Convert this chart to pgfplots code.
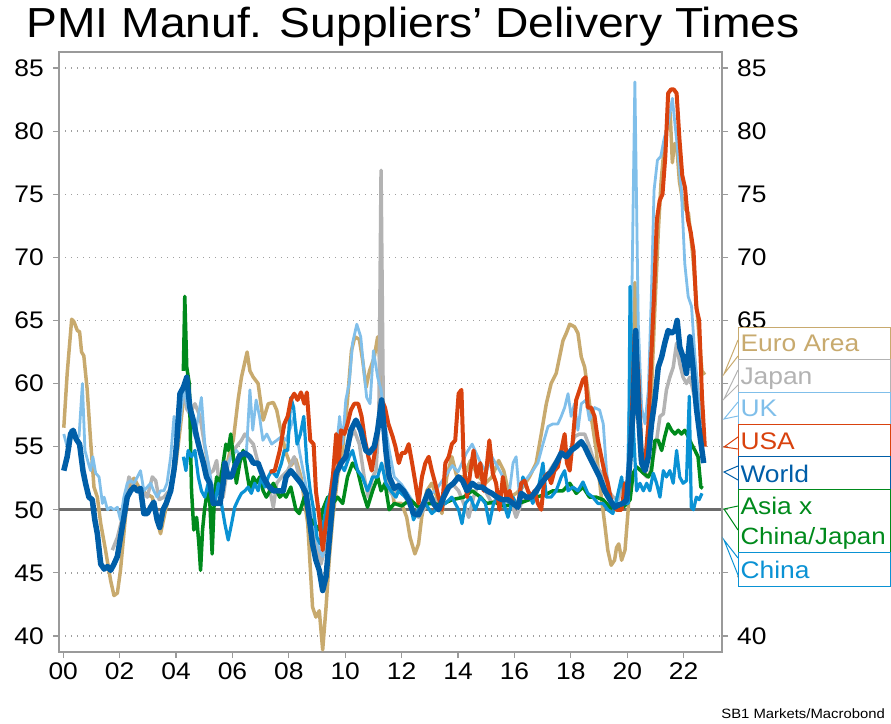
\documentclass[border=0pt]{standalone}
\usepackage{fontspec}
\setmainfont[FakeStretch=1.1]{Liberation Sans}
\usepackage{pgfplots}
\pgfplotsset{compat=1.18}
\definecolor{cEuro}{HTML}{C8AA6E}
\definecolor{cJapan}{HTML}{B3B3B3}
\definecolor{cUK}{HTML}{80BFEA}
\definecolor{cUSA}{HTML}{D9420E}
\definecolor{cWorld}{HTML}{005EA8}
\definecolor{cAsia}{HTML}{008A1C}
\definecolor{cChina}{HTML}{0A92D4}
\definecolor{cFrame}{HTML}{9A9A9A}
\begin{document}
\begin{tikzpicture}
\useasboundingbox (0pt,0pt) rectangle (891pt,723pt);
\begin{axis}[
  at={(59pt,71pt)}, anchor=south west,
  width=663pt, height=600pt, scale only axis,
  xmin=-0.15, xmax=23.36, ymin=38.73, ymax=86.27,
  xtick={0,2,...,22},
  xticklabels={00,02,04,06,08,10,12,14,16,18,20,22},
  ytick={40,45,...,85},
  xtick pos=left, ytick pos=left,
  tick align=outside, major tick length=6pt,
  tick style={cFrame, line width=1.2pt},
  axis line style={cFrame, line width=1.5pt},
  ymajorgrids,
  major grid style={gray!75, line width=1.4pt, dash pattern=on 1.4pt off 4.6pt},
  /pgf/number format/assume math mode=true,
  tick label style={font=\fontsize{24}{24}\selectfont, text=black},
  yticklabel style={inner sep=0pt, xshift=-9pt},
  xticklabel style={inner sep=0pt, yshift=-5pt},
  every axis plot/.append style={line join=round, mark=none},
]
\draw[gray!85!black, line width=2.6pt] (axis cs:-0.15,50) -- (axis cs:23.36,50);
% Euro Area
\addplot[cEuro, line width=3.5pt] coordinates {
(0.02,56.5)(0.14,60.8)(0.3,65.1)(0.38,64.9)(0.5,64.2)(0.58,64.1)(0.65,62.5)(0.73,62.2)(0.85,59.5)(0.97,55.5)(1.09,51.8)(1.21,51.0)(1.33,48.9)(1.5,46.8)(1.68,44.4)(1.8,43.2)(1.92,43.4)(2.03,45.2)(2.15,48.1)(2.27,51.0)(2.39,52.1)(2.51,52.5)(2.68,51.8)(2.92,51.3)(3.16,51.0)(3.33,49.2)(3.45,48.1)(3.63,50.0)(3.86,52.1)(4.0,53.7)(4.15,56.5)(4.3,59.5)(4.45,58.5)(4.6,57)(4.75,55.5)(4.9,54.5)(5.05,53.5)(5.2,52)(5.35,50.8)(5.5,50.5)(5.65,51.5)(5.8,53.5)(5.95,55)(6.03,55.5)(6.2,58.7)(6.32,60.5)(6.52,62.5)(6.62,61.0)(6.74,60.5)(6.91,60.0)(7.09,57.1)(7.27,58.4)(7.45,58.5)(7.57,57.9)(7.74,56.0)(7.9,54.5)(8.07,53.5)(8.25,54)(8.43,52.6)(8.67,48.9)(8.84,42.3)(8.96,41.5)(9.08,42)(9.2,38.9)(9.32,42.3)(9.44,46.3)(9.56,49.4)(9.73,52.6)(9.9,54.7)(10.08,58.7)(10.22,62.6)(10.34,63.7)(10.5,63.5)(10.62,61.8)(10.74,59.7)(10.86,61)(11.03,62.1)(11.15,63.7)(11.27,60.8)(11.39,55.5)(11.57,52.6)(11.74,50.5)(12.0,50.5)(12.18,49.4)(12.3,47.8)(12.47,46.5)(12.6,47.3)(12.71,49.4)(12.89,51.5)(13.07,52.1)(13.25,51)(13.43,49.7)(13.6,52.6)(13.78,54.2)(13.96,52.6)(14.2,52.6)(14.44,53.9)(14.73,52.6)(14.97,52.1)(15.2,52.6)(15.44,53.9)(15.62,53.1)(15.83,51)(16.06,51.3)(16.3,51.8)(16.53,52.6)(16.77,53.7)(16.95,56)(17.13,58.4)(17.3,60)(17.48,60.8)(17.6,62.1)(17.72,63.4)(17.84,64)(17.96,64.7)(18.13,64.5)(18.25,64)(18.37,62.1)(18.49,61.3)(18.6,59.5)(18.72,57.4)(18.9,54.7)(19.08,51)(19.2,48.9)(19.31,46.8)(19.43,45.6)(19.55,46)(19.62,47)(19.7,47.3)(19.8,46)(19.92,46.8)(20.04,50.2)(20.15,58.1)(20.27,68)(20.39,59.5)(20.51,54.2)(20.63,52.9)(20.75,54.2)(20.86,59.5)(20.98,66)(21.1,72)(21.2,76)(21.3,78.5)(21.42,80.5)(21.52,81.5)(21.6,77.5)(21.67,79)(21.75,79)(21.85,76)(22.0,74)(22.17,73.5)(22.33,70)(22.5,65)(22.65,61)(22.75,60.7)};
% Japan
\addplot[cJapan, line width=3.5pt] coordinates {
(1.74,46.8)(1.92,47.8)(2.1,49.4)(2.21,51)(2.33,52.6)(2.45,52.1)(2.63,51.5)(2.8,51.5)(2.98,51)(3.16,52.6)(3.28,52.3)(3.4,50.8)(3.57,51)(3.75,51.5)(3.9,52.5)(4.02,55)(4.15,57.5)(4.26,59.5)(4.38,58)(4.49,57.6)(4.67,58.4)(4.85,57.4)(5.02,55)(5.2,52.9)(5.32,53.1)(5.44,53.9)(5.56,51.5)(5.67,51.0)(5.85,53.7)(5.97,54.5)(6.14,55.0)(6.32,55.5)(6.44,56.0)(6.62,55.5)(6.74,55.2)(6.91,53.7)(7.09,52.9)(7.2,52.1)(7.33,51.5)(7.45,50.2)(7.57,52.1)(7.74,52.6)(7.96,53.1)(8.19,54.2)(8.37,52.6)(8.61,51.0)(8.78,48.9)(8.96,47.3)(9.14,45.7)(9.26,46.8)(9.44,48.9)(9.62,51.5)(9.8,53.7)(9.97,54.2)(10.14,55.5)(10.32,56.3)(10.5,55.2)(10.67,52.6)(10.82,51.0)(10.97,52.6)(11.09,53.1)(11.19,56.8)(11.27,76.9)(11.35,58)(11.45,53.1)(11.56,51.5)(11.74,51.0)(11.89,52.1)(12.13,51.0)(12.37,50.0)(12.6,49.4)(12.84,50.2)(13.07,51.0)(13.31,50.5)(13.55,51.5)(13.78,52.1)(14.02,51.5)(14.2,50.5)(14.38,49.4)(14.55,51.0)(14.73,52.1)(14.97,51.5)(15.2,50.5)(15.44,51.0)(15.62,50.5)(15.83,51)(16.06,49.4)(16.24,50.5)(16.53,51.0)(16.77,51.5)(17.01,52.1)(17.25,53.1)(17.48,53.9)(17.72,54.7)(17.96,54.5)(18.13,55.8)(18.31,56.0)(18.49,56.0)(18.66,55.0)(18.84,53.7)(19.02,53.1)(19.2,52.6)(19.33,51.5)(19.5,51.0)(19.68,50.8)(19.86,52.1)(20.04,51.0)(20.21,56.8)(20.33,59.5)(20.45,54.2)(20.57,52.9)(20.69,52.6)(20.8,52.9)(20.92,54.2)(21.04,55.5)(21.16,57.4)(21.28,57.6)(21.39,59.5)(21.51,60.5)(21.63,61.3)(21.75,63.2)(21.86,61.6)(21.98,60.5)(22.1,60.0)(22.22,60.5)(22.33,59.5)(22.45,58.1)(22.57,57.4)(22.75,57.5)};
% UK
\addplot[cUK, line width=2.8pt] coordinates {
(0.02,56.0)(0.14,55.0)(0.26,56.3)(0.44,55.8)(0.56,55.8)(0.68,60.0)(0.77,54.7)(0.89,53.7)(0.97,53.1)(1.05,54.2)(1.15,52.9)(1.27,52.6)(1.39,50.5)(1.45,51.0)(1.57,50.0)(1.68,50.2)(1.8,50.0)(1.92,50.2)(2.03,49.2)(2.15,51.0)(2.27,52.1)(2.39,52.3)(2.51,52.1)(2.63,52.6)(2.74,53.1)(2.86,51.5)(2.98,51.8)(3.1,52.1)(3.21,51.5)(3.33,51.0)(3.45,51.5)(3.57,51.5)(3.68,52.1)(3.81,54.2)(3.93,57.4)(4.02,55)(4.15,57)(4.26,59.7)(4.49,57.4)(4.67,55.8)(4.79,57.4)(4.9,58.9)(5.02,55.2)(5.14,53.7)(5.26,52.1)(5.38,51.5)(5.5,52.1)(5.61,51.0)(5.79,53.4)(5.97,54.2)(6.14,54.7)(6.32,54.2)(6.5,54.7)(6.62,59.5)(6.72,56.3)(6.84,58.7)(6.96,57.4)(7.08,55.5)(7.22,56.0)(7.39,55.2)(7.57,55.5)(7.74,55.8)(7.9,55.5)(8.07,56.6)(8.19,57.4)(8.37,54.7)(8.55,52.6)(8.72,50.5)(8.9,48.6)(9.08,46.8)(9.2,46.3)(9.32,48.9)(9.5,52.1)(9.68,54.7)(9.8,57.4)(9.9,55.2)(10.02,58.7)(10.14,60.0)(10.26,63.2)(10.41,64.7)(10.55,63.7)(10.67,60.8)(10.76,58.9)(10.88,58.4)(11.0,62.6)(11.15,60.5)(11.27,59.5)(11.41,56.8)(11.56,54.7)(11.74,52.6)(12.0,52)(12.3,51)(12.6,50)(12.9,51)(13.2,51.5)(13.5,52.5)(13.8,53.5)(14.0,53)(14.3,54.5)(14.5,55.2)(14.8,53.7)(15.0,53)(15.2,54.2)(15.5,53)(15.59,52.6)(15.77,50.5)(15.95,53.7)(16.06,54.2)(16.18,51.0)(16.3,52.1)(16.48,52.6)(16.65,53.1)(16.83,53.7)(17.01,55.2)(17.19,56.6)(17.36,56.8)(17.54,56.8)(17.66,57.4)(17.78,58.1)(17.9,59.2)(18.01,57.4)(18.13,58.4)(18.25,56.3)(18.37,58.4)(18.54,58.7)(18.66,57.1)(18.84,58.1)(19.02,57.9)(19.15,56.8)(19.27,52.9)(19.45,50.5)(19.62,50.5)(19.8,52.3)(19.98,51.0)(20.15,64.8)(20.27,83.9)(20.39,64.8)(20.51,58.1)(20.63,56.8)(20.75,59.5)(20.86,67.4)(20.95,75.3)(21.07,77.7)(21.19,78)(21.3,79.3)(21.45,80.6)(21.6,82.6)(21.69,80.6)(21.81,78)(21.92,75.3)(22.04,69.5)(22.16,66.9)(22.28,66.1)(22.4,62.1)(22.51,59.5)(22.63,56.8)(22.72,57.1)};
% Asia x China/Japan
\addplot[cAsia, line width=3.5pt] coordinates {
(4.26,61.0)(4.31,66.9)(4.38,61.3)(4.47,60.0)(4.55,51.5)(4.63,48.4)(4.73,49.4)(4.81,47.3)(4.87,45.2)(4.94,48.4)(5.01,50.0)(5.11,51.5)(5.2,50.5)(5.28,46.5)(5.36,51.0)(5.44,52.6)(5.56,52.1)(5.67,53.7)(5.77,55.2)(5.85,54.7)(5.94,56.0)(6.03,54.2)(6.14,52.1)(6.26,53.7)(6.38,54.7)(6.5,53.1)(6.62,51.5)(6.74,52.6)(6.85,52.1)(6.97,52.6)(7.09,51.5)(7.2,51.0)(7.33,51.5)(7.45,52.1)(7.57,51.5)(7.68,51.0)(7.8,51.3)(7.9,51.0)(8.07,51.8)(8.25,50.0)(8.37,49.7)(8.55,51.0)(8.72,49.4)(8.9,48.9)(9.08,48.4)(9.2,50.0)(9.38,51.0)(9.56,50.5)(9.73,51.0)(9.91,50.5)(10.08,52.6)(10.26,53.7)(10.44,53.1)(10.61,51.5)(10.79,50.2)(10.97,51.5)(11.15,52.6)(11.27,51.5)(11.41,52.1)(11.56,50.0)(11.74,50.5)(12.0,50.3)(12.3,50.8)(12.6,50.2)(13.0,50.5)(13.4,50.4)(13.8,50.8)(14.2,51.0)(14.5,51.5)(14.8,51.0)(15.0,50.5)(15.3,50.6)(15.6,50.3)(16.0,50.4)(16.4,50.7)(16.77,51.0)(17.1,51.2)(17.36,51.5)(17.72,51.5)(17.96,52.1)(18.19,51.3)(18.43,51.8)(18.66,51.0)(18.9,51.0)(19.14,50.8)(19.39,50.2)(19.62,50.0)(19.86,50.2)(20.1,50.8)(20.21,52.9)(20.33,53.4)(20.57,52.9)(20.75,52.6)(20.86,53.1)(20.98,55.5)(21.1,55.5)(21.22,54.7)(21.33,55.8)(21.45,56.8)(21.57,56.3)(21.69,56.0)(21.81,56.3)(21.92,56.0)(22.04,56.3)(22.16,55.8)(22.28,55.2)(22.4,54.7)(22.51,54.2)(22.61,51.8)(22.68,51.7)};
% China
\addplot[cChina, line width=3.2pt] coordinates {
(4.26,54.2)(4.35,53.1)(4.43,54.7)(4.55,54.2)(4.67,54.7)(4.79,52.6)(4.9,51.5)(5.02,51.0)(5.14,52.1)(5.26,51.0)(5.38,50.5)(5.5,52.1)(5.61,50.5)(5.73,48.9)(5.85,47.6)(5.97,48.9)(6.08,50.2)(6.2,50.8)(6.32,51.3)(6.44,51.5)(6.56,51.8)(6.67,51.3)(6.79,52.1)(6.91,51.5)(7.03,52.6)(7.15,51.8)(7.27,52.6)(7.39,53.1)(7.57,52.6)(7.74,53.7)(7.84,54.7)(7.96,54.7)(8.07,58.9)(8.17,58.1)(8.29,55.2)(8.41,56.0)(8.53,57.4)(8.64,53.7)(8.76,51.5)(8.88,50.0)(9.0,47.8)(9.11,47.3)(9.23,48.9)(9.35,50.5)(9.5,51.5)(9.64,52.6)(9.8,53.7)(9.97,53.1)(10.14,54.2)(10.26,54.7)(10.44,53.1)(10.61,52.6)(10.79,51.5)(10.97,52.6)(11.15,52.6)(11.29,53.7)(11.44,52.1)(11.62,51.5)(11.8,51.0)(11.89,51.5)(12.13,51.0)(12.3,50.5)(12.42,49.2)(12.6,50.0)(12.84,50.5)(13.07,49.7)(13.31,50.2)(13.55,50.5)(13.78,51.0)(14.02,50.0)(14.14,48.9)(14.26,50.5)(14.44,51.0)(14.61,50.0)(14.79,51.0)(14.97,50.5)(15.11,48.9)(15.26,50.5)(15.44,51.0)(15.62,50.5)(15.77,49.4)(15.95,51.0)(16.12,50.2)(16.3,52.6)(16.48,51.5)(16.65,50.5)(16.83,51.5)(17.01,53.7)(17.13,51.0)(17.3,51.0)(17.48,51.5)(17.66,52.6)(17.78,53.1)(17.9,51.5)(18.07,51.8)(18.25,51.5)(18.43,52.2)(18.6,51.3)(18.78,51.0)(18.96,50.5)(19.14,50.5)(19.31,50.0)(19.49,49.7)(19.62,50.8)(19.8,52.6)(19.92,50.5)(20.04,50.5)(20.1,67.7)(20.21,56.8)(20.33,51.5)(20.45,52.1)(20.57,51.5)(20.69,52.1)(20.8,51.5)(20.92,52.9)(21.04,52.1)(21.16,51.0)(21.28,53.1)(21.39,52.6)(21.51,53.1)(21.63,52.1)(21.75,54.7)(21.86,52.6)(21.98,52.1)(22.1,52.3)(22.2,59)(22.27,50.2)(22.35,50.0)(22.45,51.0)(22.55,50.8)(22.65,51.3)};
% USA
\addplot[cUSA, line width=4pt] coordinates {
(7.33,53.0)(7.5,53.1)(7.68,54.7)(7.84,56.8)(7.96,57.4)(8.07,58.7)(8.19,59.2)(8.31,58.7)(8.43,59.3)(8.55,58.4)(8.64,59.3)(8.76,55.5)(8.88,55.2)(8.96,51.5)(9.08,49.4)(9.2,46.8)(9.32,48.9)(9.44,50.5)(9.56,52.6)(9.68,56.0)(9.76,53.4)(9.85,56.3)(9.97,56.0)(10.08,56.8)(10.2,57.9)(10.32,58.4)(10.46,58.4)(10.58,57.4)(10.7,55.5)(10.82,54.2)(10.94,53.1)(11.06,54.7)(11.17,56.8)(11.29,58.7)(11.41,58.1)(11.53,56.8)(11.68,55.8)(11.78,55.0)(11.9,53.7)(12.01,54.5)(12.13,54.5)(12.25,55.2)(12.37,53.7)(12.49,52.1)(12.6,50.5)(12.72,52.6)(12.84,53.7)(12.96,54.2)(13.07,53.1)(13.19,52.1)(13.31,51.0)(13.43,50.0)(13.55,53.7)(13.67,54.2)(13.78,55.2)(13.9,55.5)(14.02,59.2)(14.12,59.5)(14.2,53.7)(14.32,51.0)(14.44,53.1)(14.55,54.7)(14.67,52.6)(14.79,53.7)(14.91,51.5)(15.03,53.7)(15.11,55.5)(15.23,52.9)(15.35,52.1)(15.47,50.0)(15.59,52.6)(15.71,51.0)(15.83,51.5)(15.95,50.5)(16.12,50.2)(16.24,52.1)(16.36,52.3)(16.48,51.5)(16.6,51.0)(16.71,51.5)(16.83,50.5)(16.95,50.0)(17.07,52.6)(17.19,52.9)(17.3,52.1)(17.42,53.1)(17.54,53.4)(17.66,54.7)(17.78,56.0)(17.86,53.7)(17.96,53.1)(18.07,55.5)(18.19,58.7)(18.31,59.5)(18.43,60.3)(18.52,60.5)(18.6,58.1)(18.72,58.1)(18.84,57.4)(18.96,55.5)(19.08,54.2)(19.2,52.9)(19.31,52.1)(19.45,50.5)(19.62,50.0)(19.8,50.0)(19.92,52.1)(20.04,51.5)(20.15,56.8)(20.27,64.2)(20.39,60.8)(20.51,54.2)(20.63,53.7)(20.75,56.8)(20.85,62)(20.95,67)(21.05,73)(21.15,74.5)(21.25,75)(21.35,78)(21.45,83)(21.55,83.3)(21.65,83.3)(21.75,83)(21.85,79.4)(21.95,76.5)(22.05,75.5)(22.15,73)(22.25,72)(22.35,70.5)(22.45,66)(22.55,65)(22.65,59)(22.75,55)};
% World
\addplot[cWorld, line width=5.5pt] coordinates {
(0.02,53.1)(0.14,54.2)(0.26,56.0)(0.35,56.3)(0.46,55.6)(0.58,55.2)(0.7,53.1)(0.79,52.1)(0.91,51.0)(1.03,50.8)(1.12,49.2)(1.21,48.1)(1.33,45.7)(1.45,45.3)(1.57,45.5)(1.68,45.2)(1.8,45.7)(1.92,46.3)(2.03,47.8)(2.15,49.4)(2.27,51.0)(2.39,51.5)(2.51,51.8)(2.63,51.5)(2.74,51.7)(2.86,49.7)(2.98,49.7)(3.1,50.2)(3.21,50.6)(3.33,49.2)(3.42,48.6)(3.54,50.0)(3.65,50.5)(3.81,51.5)(3.93,53.2)(4.02,55.2)(4.14,59.2)(4.26,59.7)(4.38,60.5)(4.49,58.1)(4.61,57.1)(4.73,55.8)(4.85,54.7)(4.97,53.7)(5.08,52.6)(5.2,52.1)(5.32,50.5)(5.44,50.5)(5.56,50.5)(5.67,52.1)(5.73,53.7)(5.85,52.6)(5.97,52.6)(6.08,53.4)(6.26,54.3)(6.44,54.5)(6.62,54.2)(6.74,53.7)(6.91,53.7)(7.09,52.6)(7.27,51.9)(7.45,51.5)(7.62,51.5)(7.8,51.5)(7.9,52.6)(8.07,53.1)(8.25,52.6)(8.43,52.1)(8.61,51.3)(8.72,49.4)(8.84,47.3)(8.96,46.0)(9.08,45.2)(9.2,43.6)(9.32,44.7)(9.44,47.8)(9.56,50.8)(9.68,52.9)(9.85,53.7)(10.02,54.2)(10.2,56.3)(10.38,57.1)(10.55,56.3)(10.73,54.7)(10.85,54.5)(11.03,55.0)(11.15,56.3)(11.29,58.7)(11.44,54.7)(11.56,52.6)(11.74,51.7)(11.89,51.9)(12.07,51.5)(12.25,50.8)(12.42,49.7)(12.6,49.6)(12.78,50.5)(12.96,51.5)(13.13,50.5)(13.31,50.0)(13.49,51.0)(13.67,51.8)(13.84,52.1)(14.02,52.6)(14.16,52.3)(14.32,51.5)(14.5,52.1)(14.67,51.8)(14.85,51.8)(15.03,51.5)(15.2,51.3)(15.38,51.0)(15.56,50.8)(15.77,50.8)(15.95,50.5)(16.12,50.2)(16.24,51.3)(16.42,51.0)(16.6,51.0)(16.77,51.5)(16.95,52.1)(17.13,52.6)(17.3,53.0)(17.48,53.7)(17.66,54.5)(17.84,54.2)(18.01,54.7)(18.19,55.0)(18.37,55.4)(18.49,55.0)(18.66,54.2)(18.84,53.4)(19.02,52.6)(19.2,51.5)(19.38,50.8)(19.55,50.2)(19.7,50.4)(19.85,50.5)(19.98,50.8)(20.1,54.2)(20.21,58.1)(20.3,64.2)(20.39,58.1)(20.51,53.7)(20.63,53.1)(20.75,54.2)(20.86,56.8)(20.98,58.7)(21.1,61.3)(21.22,62.1)(21.33,63.2)(21.45,64.2)(21.57,64.0)(21.69,64.2)(21.77,65.0)(21.86,62.9)(21.98,62.1)(22.1,60.8)(22.22,63.7)(22.33,61.3)(22.45,58.1)(22.57,56.0)(22.71,53.7)};
\end{axis}
\begin{axis}[
  at={(59pt,71pt)}, anchor=south west,
  width=663pt, height=600pt, scale only axis,
  xmin=-0.15, xmax=23.36, ymin=38.73, ymax=86.27,
  axis x line=none, axis y line*=right,
  ytick={40,45,...,85}, ytick pos=right,
  tick align=outside, major tick length=6pt,
  tick style={cFrame, line width=1.2pt},
  axis line style={cFrame, line width=1.5pt},
  /pgf/number format/assume math mode=true,
  tick label style={font=\fontsize{24}{24}\selectfont, text=black},
  yticklabel style={inner sep=0pt, xshift=9pt},
]
\addplot[draw=none] coordinates {(0,50)};
\end{axis}
% title and source
\node[anchor=base, inner sep=0pt, font=\fontsize{42}{42}\selectfont] at (413pt,685pt) {PMI Manuf. Suppliers' Delivery Times};
\node[anchor=base east, inner sep=0pt, font=\fontsize{13.5}{13.5}\selectfont] at (885pt,5pt) {SB1 Markets/Macrobond};
% legend boxes
\begin{scope}[x=1pt, y=1pt, line width=1pt]
\draw[cEuro, fill=white] (738,363) rectangle (890.5,395);
\node[anchor=base west, inner sep=0pt, text=cEuro, font=\fontsize{24}{24}\selectfont] at (740,371) {Euro Area};
\draw[cEuro] (738,383) -- (724,349) -- (738,367);
\draw[cJapan, fill=white] (738,330) rectangle (890.5,363);
\node[anchor=base west, inner sep=0pt, text=cJapan, font=\fontsize{24}{24}\selectfont] at (740,338) {Japan};
\draw[cJapan] (738,353) -- (724,324) -- (738,338);
\draw[cUK, fill=white] (738,298) rectangle (890.5,330);
\node[anchor=base west, inner sep=0pt, text=cUK, font=\fontsize{24}{24}\selectfont] at (740,306) {UK};
\draw[cUK] (738,321) -- (724,304) -- (738,307);
\draw[cUSA, fill=white] (738,266) rectangle (890.5,298);
\node[anchor=base west, inner sep=0pt, text=cUSA, font=\fontsize{24}{24}\selectfont] at (740,273) {USA};
\draw[cUSA] (738,286) -- (724,276) -- (738,274);
\draw[cWorld, fill=white] (738,233) rectangle (890.5,266);
\node[anchor=base west, inner sep=0pt, text=cWorld, font=\fontsize{24}{24}\selectfont] at (740,240) {World};
\draw[cWorld] (738,257) -- (724,251) -- (738,243);
\draw[cAsia, fill=white] (738,170) rectangle (890.5,233);
\node[anchor=base west, inner sep=0pt, text=cAsia, font=\fontsize{24}{24}\selectfont] at (740,208) {Asia x};
\node[anchor=base west, inner sep=0pt, text=cAsia, font=\fontsize{23.5}{23.5}\selectfont] at (740,178) {China/Japan};
\draw[cAsia] (738,217) -- (724,214) -- (738,193);
\draw[cChina, fill=white] (738,137) rectangle (890.5,170);
\node[anchor=base west, inner sep=0pt, text=cChina, font=\fontsize{24}{24}\selectfont] at (740,145) {China};
\draw[cChina] (738,165) -- (724,183) -- (738,148);
\end{scope}
\end{tikzpicture}
\end{document}
